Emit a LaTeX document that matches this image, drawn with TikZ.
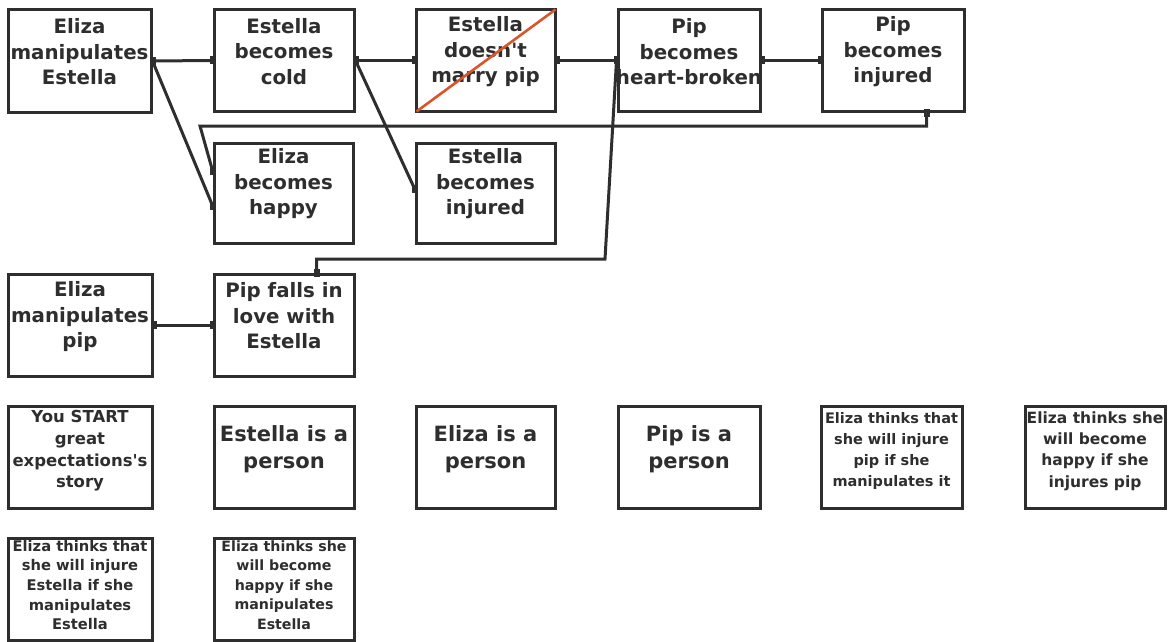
\documentclass[tikz,border=0pt]{standalone}
\usepackage{fontspec}
\setmainfont{DejaVu Sans}[Ligatures=TeXOff]
\usetikzlibrary{calc}
\definecolor{ink}{HTML}{2E2E2E}
\definecolor{strike}{HTML}{D9552B}

% small filled square marking where a connector meets a box
\newcommand\portmark[1]{\fill[ink] ($#1+(-3,-4)$) rectangle ($#1+(3,4)$);}

\begin{document}
\begin{tikzpicture}[x=1pt,y=-1pt,
  box/.style={draw=ink, line width=3pt, inner sep=0pt, rectangle},
  wire/.style={draw=ink, line width=3pt, line join=miter},
  txt/.style={text=ink, align=center, inner sep=0pt, font=\bfseries},
  big/.style={txt, font=\fontsize{19.8}{25.5}\selectfont\bfseries},
  mid/.style={txt, font=\fontsize{21}{27}\selectfont\bfseries},
  small/.style={txt, font=\fontsize{16.5}{21.7}\selectfont\bfseries},
  tiny/.style={txt, font=\fontsize{14.7}{19.6}\selectfont\bfseries},
]
\useasboundingbox (0,0) rectangle (1170,642);
\fill[white] (0,0) rectangle (1170,642);

% ---- texts ----
\node[big] (A-t) at (79.5,52) {Eliza\\manipulates\\Estella};
\node[big] (B-t) at (284,51.5) {Estella\\becomes\\cold};
\node[big] (C-t) at (485.5,52) {Estella\\doesn't\\marry pip};
\node[big] (D-t) at (689,52) {Pip\\becomes\\heart-broken};
\node[big] (E-t) at (893,52) {Pip\\becomes\\injured};
\node[big] (F-t) at (283.5,184) {Eliza\\becomes\\happy};
\node[big] (G-t) at (485.5,184) {Estella\\becomes\\injured};
\node[big] (H-t) at (80,317) {Eliza\\manipulates\\pip};
\node[big] (I-t) at (284,316) {Pip falls in\\love with\\Estella};

\node[small] (J-t) at (80,451) {You START\\great\\expectations's\\story};
\node[mid] (K-t) at (284,449) {Estella is a\\person};
\node[mid] (L-t) at (485.5,449) {Eliza is a\\person};
\node[mid] (M-t) at (689,449) {Pip is a\\person};
\node[txt, font=\fontsize{14.5}{20.8}\selectfont\bfseries] (N-t) at (891.5,451)
  {Eliza thinks that\\she will injure\\pip if she\\manipulates it};
\node[txt, font=\fontsize{15.5}{21.2}\selectfont\bfseries] (O-t) at (1095,451)
  {Eliza thinks she\\will become\\happy if she\\injures pip};
\node[tiny] (P-t) at (80,585) {Eliza thinks that\\she will injure\\Estella if she\\manipulates\\Estella};
\node[txt, font=\fontsize{14.2}{19.6}\selectfont\bfseries] (Q-t) at (284,585)
  {Eliza thinks she\\will become\\happy if she\\manipulates\\Estella};

% ---- boxes ----
\node[box, minimum width=143pt, minimum height=102pt] (A) at (79.5,61) {};
\node[box, minimum width=140pt, minimum height=101pt] (B) at (284,60.5) {};
\node[box, minimum width=139pt, minimum height=101pt] (C) at (485.5,60.5) {};
\node[box, minimum width=142pt, minimum height=101pt] (D) at (689,60.5) {};
\node[box, minimum width=142pt, minimum height=101pt] (E) at (893,60.5) {};
\node[box, minimum width=139pt, minimum height=100pt] (F) at (283.5,193) {};
\node[box, minimum width=139pt, minimum height=100pt] (G) at (485.5,193) {};
\node[box, minimum width=144pt, minimum height=102pt] (H) at (80,325) {};
\node[box, minimum width=140pt, minimum height=102pt] (I) at (284,325) {};

\node[box, minimum width=144pt, minimum height=102pt] (J) at (80,457) {};
\node[box, minimum width=140pt, minimum height=102pt] (K) at (284,457) {};
\node[box, minimum width=139pt, minimum height=102pt] (L) at (485.5,457) {};
\node[box, minimum width=142pt, minimum height=102pt] (M) at (689,457) {};
\node[box, minimum width=141pt, minimum height=102pt] (N) at (891.5,457) {};
\node[box, minimum width=140pt, minimum height=102pt] (O) at (1095,457) {};
\node[box, minimum width=144pt, minimum height=102pt] (P) at (80,589) {};
\node[box, minimum width=140pt, minimum height=102pt] (Q) at (284,589) {};

% crossed-out event
\draw[strike, line width=2.6pt] ($(C.south west)+(2,-1)$) -- ($(C.north east)+(-1,1)$);

% ---- ports ----
\coordinate (F-p1) at ($(F.north west)+(0,29)$);
\coordinate (F-p2) at ($(F.north west)+(0,64)$);
\coordinate (G-p)  at ($(G.north west)+(0,47)$);
\coordinate (E-b)  at ($(E.south west)+(106,0)$);
\coordinate (I-top) at ($(I.north west)+(104,0)$);
\coordinate (loopL) at (200,126);
\coordinate (riseR) at (605,259);

% ---- connectors ----
\draw[wire] (A.east) -- (B.west);
\draw[wire] (A.east) -- (F-p2);
\draw[wire] (B.east) -- (C.west);
\draw[wire] (B.east) -- (G-p);
\draw[wire] (C.east) -- (D.west);
\draw[wire] (D.east) -- (E.west);
\draw[wire] (E-b) |- (loopL) -- (F-p1);
\draw[wire] (I-top) |- (riseR) -- (D.west);
\draw[wire] (H.east) -- (I.west);

\portmark{(A.east)}
\portmark{(B.west)}
\portmark{(B.east)}
\portmark{(C.west)}
\portmark{(C.east)}
\portmark{(D.west)}
\portmark{(D.east)}
\portmark{(E.west)}
\portmark{(E-b)}
\portmark{(F-p1)}
\portmark{(F-p2)}
\portmark{(G-p)}
\portmark{(H.east)}
\portmark{(I.west)}
\portmark{(I-top)}
\end{tikzpicture}
\end{document}
